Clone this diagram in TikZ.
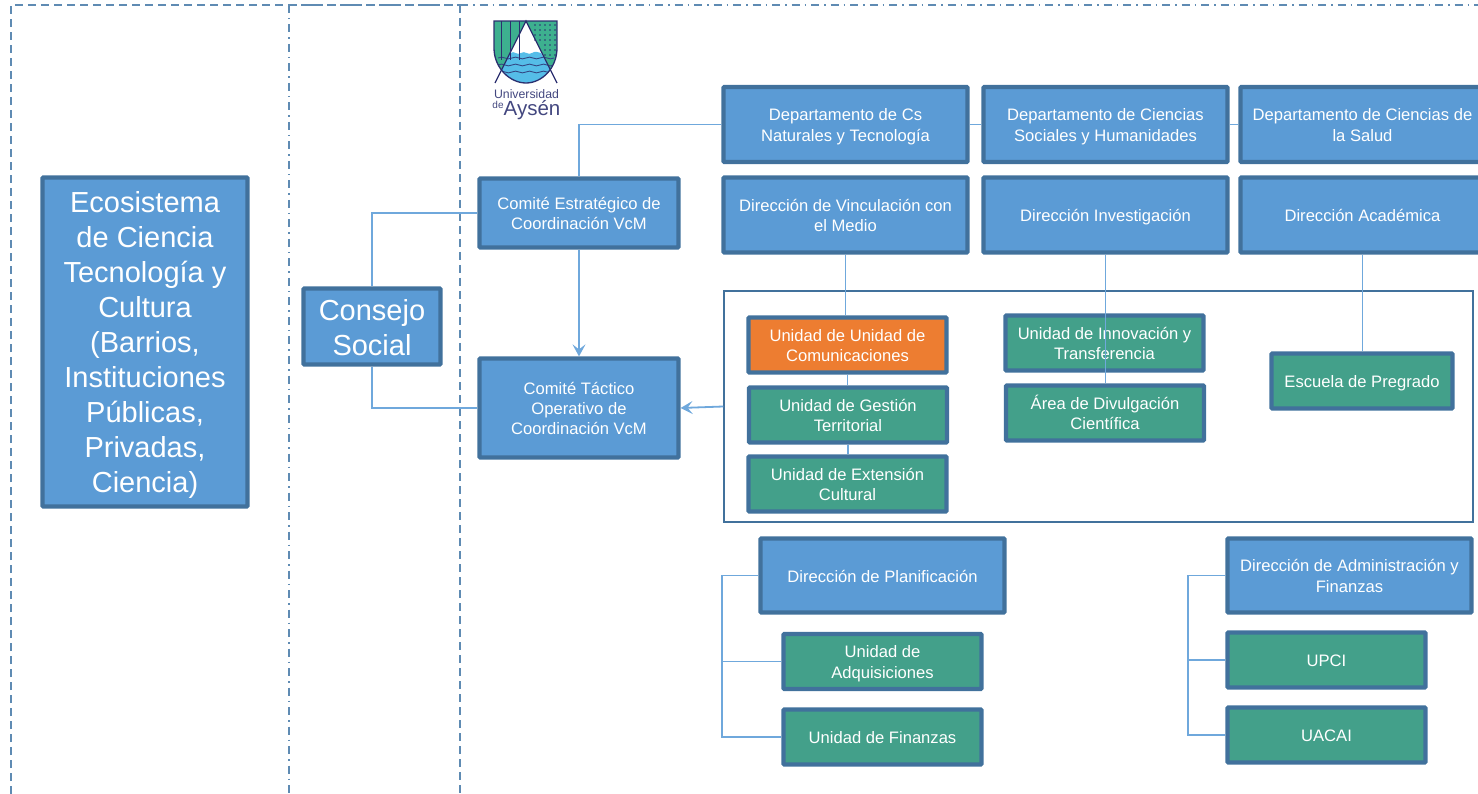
\documentclass[tikz,border=0pt]{standalone}
\usepackage{fontspec}
\setmainfont{Liberation Sans}
\usetikzlibrary{arrows.meta}
\definecolor{boxblue}{HTML}{5B9BD5}
\definecolor{boxedge}{HTML}{41719C}
\definecolor{boxgreen}{HTML}{43A08A}
\definecolor{boxorange}{HTML}{ED7D31}
\definecolor{linkblue}{HTML}{6FA8DC}
\definecolor{framecol}{HTML}{5F8BB3}
\definecolor{logonavy}{HTML}{2B2F6F}
\definecolor{logogreen}{HTML}{3DB08F}
\definecolor{logowater}{HTML}{55BDE8}
\definecolor{logotext}{HTML}{43477F}
\newcommand{\boxtop}{\rule{0pt}{17pt}}
\newcommand{\bigtop}[1]{\rule{0pt}{#1pt}}
\tikzset{
  orgbox/.style={draw=boxedge,line width=4.2pt,rounded corners=.8pt,text=white,align=center,
    font=\fontsize{16.6}{20.3}\selectfont,inner sep=0pt,
    execute at end node={\rule[-4pt]{0pt}{0pt}}},
  bluebox/.style={orgbox,fill=boxblue},
  greenbox/.style={orgbox,fill=boxgreen},
  orangebox/.style={orgbox,fill=boxorange},
  bigbox/.style={bluebox,font=\fontsize{29}{35}\selectfont},
  link/.style={draw=linkblue,line width=1.8pt},
  linkarrow/.style={link,-{Stealth[length=12pt,width=13pt,inset=5pt]}},
  framedash/.style={draw=framecol,line width=1.5pt,dash pattern=on 8pt off 5pt},
  framedot/.style={draw=framecol,line width=1.5pt,dash pattern=on 8pt off 5pt on 1.5pt off 5pt},
}
\begin{document}
\begin{tikzpicture}[x=1pt,y=-1pt]
    \useasboundingbox (0,0) rectangle (1478,794);
    % frames
    \coordinate (frameA) at (11,794);
    \coordinate (frameB) at (11,5);
    \coordinate (frameC) at (460,5);
    \coordinate (frameD) at (460,794);
    \coordinate (frameE) at (1478,5);
    \coordinate (frameF) at (289,5);
    \coordinate (frameG) at (289,794);
    \draw[framedash](frameA)--(frameB)--(frameC);
    \draw[framedash](frameC)--(frameD);
    \draw[framedot](frameC)--(frameE);
    \draw[framedot](frameF)--(frameG);
    \draw[framedot](frameF)--(frameC);
    % logo
    \begin{scope}
      \clip(494,21)--(557,21)--(557,48)..controls(557,68)and(542,83)..(526,83)..controls(510,83)and(494,68)..(494,48)--cycle;
      \fill[logogreen](494,21)rectangle(557,83);
      \fill[white](526,21)--(495,83)--(557,83)--cycle;
      \fill[logowater](501,70)--(510.5,53)..controls(514,50)and(517,56)..(521,53)..controls(525,50)and(528,56)..(532,53)..controls(535,51)and(538,52)..(541,53)--(552,72)--(552,83)--(500,83)--cycle;
      \foreach \y in {58,65,72}
        \draw[logonavy!80!logowater,line width=.9pt](498,\y)..controls(503,\y-3)and(507,\y+3)..(512,\y)..controls(517,\y-3)and(521,\y+3)..(526,\y)..controls(531,\y-3)and(535,\y+3)..(540,\y)..controls(545,\y-3)and(549,\y+3)..(554,\y);
      \foreach \x in {501,510,519}
        \draw[logonavy,line width=.6pt](\x,21)--(\x,60);
      \foreach \x in {535,540,...,555}
        \foreach \y in {25,30,...,40}
          \fill[logonavy](\x,\y)circle(.8);
      \foreach \x in {545,550,555}
        \foreach \y in {45,50,55}
          \fill[logonavy](\x,\y)circle(.8);
    \end{scope}
    \draw[logonavy,line width=1.3pt](557,48)..controls(557,68)and(542,83)..(526,83)..controls(510,83)and(494,68)..(494,48)--(494,21)--(557,21)--cycle;
    \draw[logonavy,line width=1.3pt](495,83)--(526,21)--(557,83);
    \node[text=logotext,font=\fontsize{12.3}{13}\selectfont,inner sep=0pt](logoA)at(526.5,94){Universidad};
    \node[text=logotext,font=\fontsize{10}{10}\selectfont,inner sep=0pt](logoB)at(498,105){de};
    \node[text=logotext,font=\fontsize{20.5}{21}\selectfont,inner sep=0pt](logoC)at(532,110){Aysén};
    % wide frame behind the units
    \node[draw=boxedge,line width=1.5pt,minimum width=749pt,minimum height=231pt](unitsbox)at(1098.5,406.5){};
    % left columns
    \node[bigbox,minimum width=205pt,minimum height=329pt](ecosistema)at(145,342){\bigtop{27}Ecosistema\\de Ciencia\\Tecnología y\\Cultura\\(Barrios,\\Instituciones\\Públicas,\\Privadas,\\Ciencia)};
    \node[bigbox,minimum width=137pt,minimum height=76pt](consejo)at(372,326.5){\bigtop{27}Consejo\\Social};
    \node[bluebox,minimum width=199pt,minimum height=69pt](estrategico)at(579,213){\boxtop Comité Estratégico de\\Coordinación VcM};
    \node[bluebox,minimum width=199pt,minimum height=99pt](tactico)at(579,408){\boxtop Comité Táctico\\Operativo de\\Coordinación VcM};
    % top rows
    \node[bluebox,minimum width=244pt,minimum height=75pt](depcs)at(845.5,124.5){\boxtop Departamento de Cs\\Naturales y Tecnología};
    \node[bluebox,minimum width=244pt,minimum height=75pt](depsoc)at(1105.5,124.5){\boxtop Departamento de Ciencias\\Sociales y Humanidades};
    \node[bluebox,minimum width=244pt,minimum height=75pt](depsalud)at(1362.5,124.5){\boxtop Departamento de Ciencias de\\la Salud};
    \node[bluebox,minimum width=244pt,minimum height=75pt](dirvcm)at(845.5,215){\boxtop Dirección de Vinculación con\\el Medio};
    \node[bluebox,minimum width=244pt,minimum height=75pt](dirinv)at(1105.5,215){\boxtop Dirección Investigación};
    \node[bluebox,minimum width=244pt,minimum height=75pt](diraca)at(1362.5,215){\boxtop Dirección Académica};
    % units
    \node[orangebox,minimum width=198pt,minimum height=55pt](unicom)at(847.5,345){\boxtop Unidad de Unidad de\\Comunicaciones};
    \node[greenbox,minimum width=198pt,minimum height=55pt](unigest)at(848,415){\boxtop Unidad de Gestión\\Territorial};
    \node[greenbox,minimum width=198pt,minimum height=55pt](uniext)at(847.5,484){\boxtop Unidad de Extensión\\Cultural};
    \node[greenbox,minimum width=198pt,minimum height=55pt](uniinn)at(1104.5,343){\boxtop Unidad de Innovación y\\Transferencia};
    \node[greenbox,minimum width=198pt,minimum height=55pt](uniarea)at(1105,413){\boxtop Área de Divulgación\\Científica};
    \node[greenbox,minimum width=181pt,minimum height=55pt](escuela)at(1362,381){\boxtop Escuela de Pregrado};
    % bottom rows
    \node[bluebox,minimum width=244pt,minimum height=74pt](dirplan)at(882.5,575.5){\boxtop Dirección de Planificación};
    \node[greenbox,minimum width=198pt,minimum height=55pt](uniadq)at(882.5,661.5){\boxtop Unidad de\\Adquisiciones};
    \node[greenbox,minimum width=198pt,minimum height=55pt](unifin)at(882.5,737){\boxtop Unidad de Finanzas};
    \node[bluebox,minimum width=244pt,minimum height=74pt](diradm)at(1349.5,575.5){\boxtop Dirección de Administración y\\Finanzas};
    \node[greenbox,minimum width=198pt,minimum height=55pt](upci)at(1326.5,660){\boxtop UPCI};
    \node[greenbox,minimum width=198pt,minimum height=55pt](uacai)at(1326.5,735){\boxtop UACAI};
    % connectors
    \draw[link](depcs.west)-|(estrategico.north);
    \draw[link](depcs.east)--(depsoc.west);
    \draw[link](depsoc.east)--(depsalud.west);
    \draw[link](estrategico.west)-|(consejo.north);
    \draw[link](consejo.south)|-(tactico.west);
    \draw[linkarrow](estrategico.south)--(tactico.north);
    \draw[linkarrow](unitsbox.west)--(tactico.east);
    \draw[link](dirvcm.south)--(dirvcm.south|-unicom.north);
    \draw[link](unicom.south)--(unicom.south|-unigest.north);
    \draw[link](unigest.south)--(unigest.south|-uniext.north);
    \draw[link](dirinv.south)--(dirinv.south|-uniarea.north);
    \draw[link](diraca.south)--(diraca.south|-escuela.north);
    \coordinate (planbus) at (722,575.5);
    \coordinate (admbus) at (1188,575.5);
    \draw[link](dirplan.west)--(planbus)|-(unifin.west);
    \draw[link](planbus|-uniadq.west)--(uniadq.west);
    \draw[link](diradm.west)--(admbus)|-(uacai.west);
    \draw[link](admbus|-upci.west)--(upci.west);
  \end{tikzpicture}
\end{document}
